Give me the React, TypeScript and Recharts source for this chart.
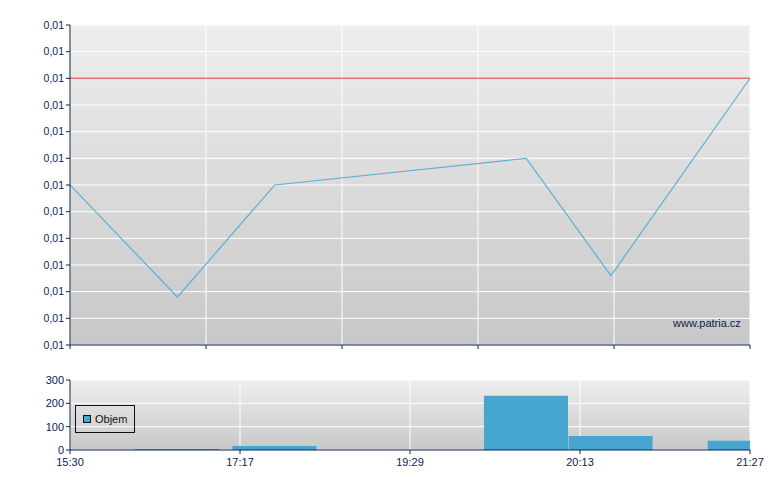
import React from 'react';
import {
  LineChart, Line, BarChart, Bar, XAxis, YAxis, CartesianGrid, ReferenceLine,
} from 'recharts';

// position of each trade along the (index-like) time axis, 0..100
const positions = [0, 15.8, 30.1, 67.1, 79.55, 100];
const prices = [0.0106, 0.01018, 0.0106, 0.0107, 0.01026, 0.011];
const volumes = [0, 4, 17, 232, 60, 40];
const refPrice = 0.011;

const priceTicks = [
  0.01, 0.0101, 0.0102, 0.0103, 0.0104, 0.0105, 0.0106,
  0.0107, 0.0108, 0.0109, 0.011, 0.0111, 0.0112,
];
const topXTicks = [0, 20, 40, 60, 80, 100];
const bottomXTicks = [0, 25, 50, 75, 100];
const timeLabels = ['15:30', '17:17', '19:29', '20:13', '21:27'];
const volumeTicks = [0, 100, 200, 300];

const data = positions.map((pos, i) => ({ pos, price: prices[i], volume: volumes[i] }));

const NAVY = '#0b2352';
const FONT = '"Liberation Sans", Arial, sans-serif';

export default function App() {
  return (
    <div style={{ position: 'absolute', left: 0, top: 0, width: 780, height: 490, background: '#fff', fontFamily: FONT }}>
      <LineChart width={780} height={360} data={data} margin={{ top: 25, right: 30, left: 10, bottom: 5 }}>
        <defs>
          <linearGradient id="bgTop" x1="0" y1="0" x2="0" y2="1">
            <stop offset="0%" stopColor="#eeeeee" />
            <stop offset="100%" stopColor="#c7c7c7" />
          </linearGradient>
        </defs>
        <CartesianGrid fill="url(#bgTop)" stroke="#ffffff" strokeWidth={1} />
        <XAxis
          dataKey="pos" type="number" domain={[0, 100]} ticks={topXTicks} allowDataOverflow
          height={10} stroke={NAVY} tickSize={4} tickFormatter={() => ''}
        />
        <YAxis
          type="number" domain={[0.01, 0.0112]} ticks={priceTicks} interval={0} allowDataOverflow
          width={60} stroke={NAVY} tickSize={4}
          tick={{ fill: NAVY, fontSize: 10.5, fontFamily: FONT }}
          tickFormatter={(v: number) => v.toFixed(2).replace('.', ',')}
        />
        <ReferenceLine y={refPrice} stroke="#e8706e" strokeWidth={1.5} />
        <Line
          type="linear" dataKey="price" stroke="#5fb0d4" strokeWidth={1.2}
          dot={false} activeDot={false} isAnimationActive={false}
        />
      </LineChart>
      <div style={{ position: 'absolute', left: 673, top: 317, fontSize: 11, color: NAVY, fontFamily: FONT }}>
        www.patria.cz
      </div>
      <div style={{ position: 'absolute', left: 0, top: 360 }}>
        <BarChart width={780} height={130} data={data} margin={{ top: 20, right: 30, left: 10, bottom: 10 }}>
          <defs>
            <linearGradient id="bgBottom" x1="0" y1="0" x2="0" y2="1">
              <stop offset="0%" stopColor="#eeeeee" />
              <stop offset="100%" stopColor="#c8c8c8" />
            </linearGradient>
          </defs>
          <CartesianGrid fill="url(#bgBottom)" stroke="#ffffff" strokeWidth={1} />
          <XAxis
            dataKey="pos" type="number" domain={[0, 100]} ticks={bottomXTicks} allowDataOverflow
            height={30} stroke={NAVY} tickSize={4} interval={0}
            tick={{ fill: NAVY, fontSize: 11, fontFamily: FONT, dy: 2 }}
            tickFormatter={(v: number) => timeLabels[bottomXTicks.indexOf(v)] ?? ''}
          />
          <YAxis
            type="number" domain={[0, 300]} ticks={volumeTicks} interval={0}
            width={60} stroke={NAVY} tickSize={4}
            tick={{ fill: NAVY, fontSize: 11, fontFamily: FONT }}
          />
          <Bar dataKey="volume" name="Objem" fill="#46a6cf" barSize={84} isAnimationActive={false} />
        </BarChart>
      </div>
      <div style={{
        position: 'absolute', left: 75, top: 405, width: 60, height: 28, border: '1px solid #111',
        boxSizing: 'border-box', display: 'flex', alignItems: 'center', paddingLeft: 7,
        fontFamily: FONT, fontSize: 11, color: '#111',
      }}>
        <span style={{ width: 6, height: 6, background: '#46a6cf', border: '1px solid #111', marginRight: 4 }} />
        Objem
      </div>
    </div>
  );
}
